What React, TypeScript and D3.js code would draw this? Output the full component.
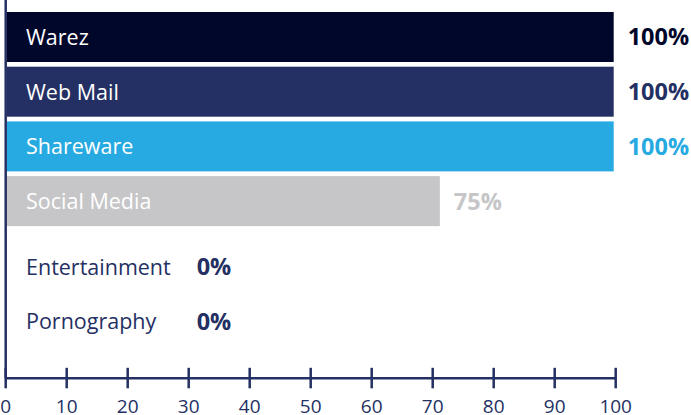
import React from "react";
import * as d3 from "d3";

const categories = ["Warez", "Web Mail", "Shareware", "Social Media", "Entertainment", "Pornography"];
const values = [100, 100, 100, 71.5, 0, 0];
const valueLabels = ["100%", "100%", "100%", "75%", "0%", "0%"];
const barColors = ["#01062b", "#243063", "#27aae1", "#c6c6c8", "#243063", "#243063"];
const ticks = [0, 10, 20, 30, 40, 50, 60, 70, 80, 90, 100];

const W = 691;
const H = 415;
const NAVY = "#243063";
const FONT = "'Open Sans', 'DejaVu Sans', sans-serif";

export default function App() {
  const x = d3.scaleLinear().domain([0, 100]).range([5.7, 615.7]);
  const y = d3.scaleBand<string>().domain(categories).range([12, 335.5]).paddingInner(0.086).paddingOuter(0);
  const axisY = 378.3;

  return (
    <svg width={W} height={H} style={{ position: "absolute", left: 0, top: 0, display: "block" }}>
      {categories.map((c, i) => {
        const v = values[i];
        const y0 = y(c) as number;
        const bh = y.bandwidth();
        const empty = v === 0;
        const cy = y0 + bh / 2 + (empty ? 11 : 0);
        const bw = Math.max(0, x(v) - x(0) - 3);
        const vx = empty ? x(0) + 191 : x(v) + 12;
        return (
          <g key={c}>
            {!empty && <rect x={x(0) + 1} y={y0} width={bw} height={bh} fill={barColors[i]} />}
            <text x={26} y={cy} dy="0.37em" fontFamily={FONT} fontSize={21.5} fill={empty ? NAVY : "#ffffff"}>
              {c}
            </text>
            <text x={vx} y={cy} dy="0.36em" fontFamily={FONT} fontSize={23.5} fontWeight={700} fill={barColors[i]}>
              {valueLabels[i]}
            </text>
          </g>
        );
      })}
      <line x1={x(0)} x2={x(0)} y1={0} y2={axisY} stroke={NAVY} strokeWidth={2.5} />
      <line x1={x(0)} x2={x(100)} y1={axisY} y2={axisY} stroke={NAVY} strokeWidth={2.5} />
      {ticks.map((t) => (
        <g key={t}>
          <line x1={x(t)} x2={x(t)} y1={axisY - 10.5} y2={axisY + 10} stroke={NAVY} strokeWidth={2.5} />
          <text x={x(t)} y={412.5} textAnchor="middle" fontFamily={FONT} fontSize={19} fill={NAVY}>
            {t}
          </text>
        </g>
      ))}
    </svg>
  );
}
